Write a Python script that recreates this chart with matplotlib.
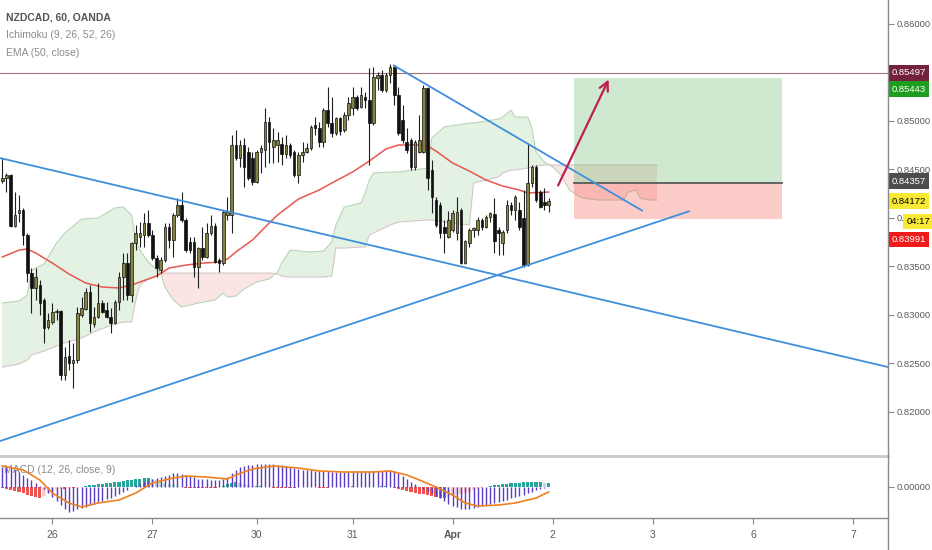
import numpy as np
import matplotlib
matplotlib.use("Agg")
import matplotlib.pyplot as plt
from matplotlib.transforms import blended_transform_factory
from matplotlib.patches import Rectangle
from matplotlib.lines import Line2D

plt.rcParams['font.family'] = ['Liberation Sans', 'DejaVu Sans']

# ---- hourly NZDCAD candles ----
opens = [0.84381, 0.84412, 0.84443, 0.83917, 0.84051, 0.84082, 0.83824, 0.83432, 0.83278, 0.83309,
         0.83154, 0.82875, 0.82927, 0.83030, 0.83040, 0.82381, 0.82576, 0.82504, 0.82535, 0.82999,
         0.83061, 0.83236, 0.82906, 0.82979, 0.83123, 0.83051, 0.82979, 0.82917, 0.83133, 0.83391,
         0.83535, 0.83206, 0.83742, 0.83804, 0.83824, 0.83948, 0.83824, 0.83587, 0.83463, 0.83566,
         0.83907, 0.83773, 0.84030, 0.84133, 0.83979, 0.83752, 0.83752, 0.83494, 0.83690, 0.83597,
         0.83845, 0.83917, 0.83566, 0.83535, 0.84030, 0.84030, 0.84752, 0.84618, 0.84752, 0.84680,
         0.84618, 0.84370, 0.84680, 0.84700, 0.84989, 0.84731, 0.84752, 0.84763, 0.84659, 0.84752,
         0.84680, 0.84443, 0.84649, 0.84680, 0.84721, 0.84958, 0.84927, 0.84783, 0.85113, 0.84979,
         0.84876, 0.85030, 0.84907, 0.85061, 0.85134, 0.85247, 0.85144, 0.85247, 0.85216, 0.84979,
         0.85443, 0.85474, 0.85319, 0.85474, 0.85556, 0.85268, 0.85010, 0.84783, 0.84804, 0.84525,
         0.84680, 0.84680, 0.85340, 0.84494, 0.84185, 0.84133, 0.83907, 0.83804, 0.83876, 0.83845,
         0.84082, 0.83535, 0.83742, 0.83876, 0.83876, 0.83979, 0.83907, 0.84009, 0.84040, 0.83876,
         0.83742, 0.83876, 0.84133, 0.84082, 0.84082, 0.84000, 0.83514, 0.84360, 0.84525, 0.84267,
         0.84164, 0.84133]
highs = [0.84618, 0.84463, 0.84453, 0.84267, 0.84237, 0.84103, 0.83845, 0.83484, 0.83484, 0.83360,
         0.83175, 0.83020, 0.83123, 0.83061, 0.83051, 0.82669, 0.82742, 0.82711, 0.83082, 0.83185,
         0.83278, 0.83309, 0.83082, 0.83329, 0.83154, 0.83133, 0.83072, 0.83154, 0.83443, 0.83639,
         0.83639, 0.83752, 0.83927, 0.83958, 0.84051, 0.84082, 0.83876, 0.83618, 0.83597, 0.83948,
         0.83948, 0.84051, 0.84206, 0.84267, 0.84000, 0.83804, 0.83804, 0.83700, 0.83907, 0.83948,
         0.84030, 0.83948, 0.83587, 0.84082, 0.84216, 0.84855, 0.84907, 0.84804, 0.84825, 0.84731,
         0.84680, 0.84700, 0.84752, 0.85134, 0.85040, 0.84927, 0.84886, 0.84835, 0.84855, 0.84773,
         0.84700, 0.84680, 0.84783, 0.84773, 0.84958, 0.85040, 0.84989, 0.85134, 0.85350, 0.85247,
         0.85040, 0.85040, 0.85092, 0.85247, 0.85350, 0.85268, 0.85350, 0.85299, 0.85546, 0.85556,
         0.85505, 0.85525, 0.85494, 0.85587, 0.85577, 0.85350, 0.85164, 0.84927, 0.84825, 0.84804,
         0.85061, 0.85371, 0.85350, 0.84597, 0.84216, 0.84164, 0.83979, 0.84072, 0.84082, 0.84216,
         0.84103, 0.83773, 0.83896, 0.83907, 0.84009, 0.84000, 0.84030, 0.84061, 0.84206, 0.83907,
         0.83876, 0.84185, 0.84164, 0.84237, 0.84164, 0.84288, 0.84773, 0.84546, 0.84546, 0.84288,
         0.84309, 0.84206]
lows = [0.84360, 0.84267, 0.83907, 0.83907, 0.83958, 0.83721, 0.83340, 0.83020, 0.83154, 0.82999,
        0.82711, 0.82855, 0.82906, 0.82948, 0.82329, 0.82329, 0.82432, 0.82247, 0.82504, 0.82979,
        0.83051, 0.82824, 0.82875, 0.82969, 0.83020, 0.82969, 0.82813, 0.82906, 0.83051, 0.83154,
        0.83154, 0.83133, 0.83669, 0.83700, 0.83700, 0.83804, 0.83566, 0.83391, 0.83432, 0.83545,
        0.83690, 0.83597, 0.84009, 0.83958, 0.83649, 0.83639, 0.83391, 0.83278, 0.83566, 0.83587,
        0.83824, 0.83535, 0.83443, 0.83514, 0.83979, 0.83845, 0.84597, 0.84525, 0.84319, 0.84391,
        0.84339, 0.84360, 0.84463, 0.84525, 0.84566, 0.84566, 0.84577, 0.84546, 0.84618, 0.84618,
        0.84422, 0.84360, 0.84577, 0.84669, 0.84700, 0.84855, 0.84731, 0.84731, 0.84938, 0.84835,
        0.84855, 0.84855, 0.84886, 0.85010, 0.85061, 0.85113, 0.85134, 0.85134, 0.84546, 0.84958,
        0.85319, 0.85299, 0.85299, 0.85391, 0.85164, 0.84855, 0.84773, 0.84669, 0.84494, 0.84494,
        0.84669, 0.84669, 0.84288, 0.84051, 0.83907, 0.83793, 0.83639, 0.83793, 0.83855, 0.83773,
        0.83525, 0.83525, 0.83700, 0.83804, 0.83824, 0.83876, 0.83896, 0.83958, 0.83639, 0.83618,
        0.83618, 0.83845, 0.84030, 0.83979, 0.83876, 0.83494, 0.83504, 0.84319, 0.84164, 0.84103,
        0.84082, 0.84061]
closes = [0.84412, 0.84443, 0.83917, 0.84030, 0.84082, 0.83824, 0.83432, 0.83278, 0.83391, 0.83123,
          0.82865, 0.82948, 0.83030, 0.83040, 0.82381, 0.82566, 0.82504, 0.82535, 0.83020, 0.83072,
          0.83236, 0.82917, 0.82979, 0.83123, 0.83030, 0.82979, 0.82917, 0.83133, 0.83391, 0.83535,
          0.83206, 0.83742, 0.83845, 0.83845, 0.83948, 0.83824, 0.83587, 0.83484, 0.83566, 0.83907,
          0.83773, 0.84030, 0.84133, 0.83979, 0.83669, 0.83669, 0.83494, 0.83690, 0.83597, 0.83845,
          0.83917, 0.83545, 0.83535, 0.84061, 0.84061, 0.84752, 0.84618, 0.84752, 0.84525, 0.84412,
          0.84370, 0.84680, 0.84721, 0.84989, 0.84783, 0.84804, 0.84804, 0.84659, 0.84752, 0.84649,
          0.84443, 0.84649, 0.84680, 0.84721, 0.84938, 0.84927, 0.84783, 0.85113, 0.84979, 0.84876,
          0.85030, 0.84896, 0.85061, 0.85185, 0.85247, 0.85134, 0.85268, 0.85216, 0.84979, 0.85453,
          0.85474, 0.85319, 0.85474, 0.85556, 0.85268, 0.84876, 0.84804, 0.84700, 0.84525, 0.84783,
          0.84804, 0.85340, 0.84412, 0.84216, 0.83927, 0.83845, 0.83845, 0.83979, 0.84051, 0.84061,
          0.83535, 0.83762, 0.83876, 0.83896, 0.83979, 0.83907, 0.84009, 0.84051, 0.83762, 0.83845,
          0.83855, 0.84133, 0.84082, 0.84216, 0.83907, 0.83514, 0.84360, 0.84525, 0.84185, 0.84113,
          0.84133, 0.84172]

# ---- EMA(50) read at sample bars ----
ema_bar = [0, 4, 6, 8, 12, 16, 20, 24, 28, 31, 33, 37, 40, 44, 48, 52, 54, 56, 60, 64, 66, 71, 76,
           79, 84, 88, 92, 95, 100, 102, 104, 108, 112, 116, 120, 124, 126, 131]
ema_val = [0.83597, 0.83669, 0.83680, 0.83639, 0.83535, 0.83422, 0.83329, 0.83288, 0.83278, 0.83309,
           0.83340, 0.83401, 0.83484, 0.83514, 0.83535, 0.83545, 0.83577, 0.83649, 0.83773, 0.83948,
           0.84030, 0.84195, 0.84288, 0.84360, 0.84474, 0.84587, 0.84711, 0.84752, 0.84752, 0.84742,
           0.84690, 0.84566, 0.84484, 0.84391, 0.84329, 0.84288, 0.84257, 0.84267]

# ---- Ichimoku cloud (leading spans, shifted 26 bars) ----
cloud_bar = [0, 4, 6, 7, 10, 13, 15, 19, 23, 27, 29, 31, 32, 33, 35, 38, 39, 41, 43, 47, 51, 53, 54,
             56, 58, 61, 64, 66, 67, 69, 74, 77, 79, 80, 82, 86, 87, 88, 89, 93, 95, 102, 103, 106,
             112, 113, 119, 120, 122, 123, 126, 127, 128, 130, 132, 134, 136, 139, 143, 149, 150,
             152, 153, 155, 157]
span_a = [0.83123, 0.83144, 0.83206, 0.83463, 0.83525, 0.83742, 0.83845, 0.83989, 0.84000, 0.84103,
          0.84113, 0.84030, 0.83773, 0.83669, 0.83545, 0.83432, 0.83288, 0.83154, 0.83082, 0.83123,
          0.83154, 0.83226, 0.83185, 0.83195, 0.83267, 0.83340, 0.83371, 0.83443, 0.83535, 0.83669,
          0.83649, 0.83659, 0.83752, 0.83927, 0.84113, 0.84154, 0.84257, 0.84391, 0.84463, 0.84474,
          0.84474, 0.84515, 0.84824, 0.84938, 0.84979, 0.84979, 0.85020, 0.85040, 0.85113, 0.85040,
          0.85040, 0.84927, 0.84680, 0.84577, 0.84525, 0.84443, 0.84288, 0.84206, 0.84185, 0.84185,
          0.84267, 0.84288, 0.84206, 0.84185, 0.84185]
span_b = [0.82463, 0.82494, 0.82535, 0.82587, 0.82628, 0.82680, 0.82711, 0.82762, 0.82845, 0.82906,
          0.82927, 0.82927, 0.83154, 0.83309, 0.83371, 0.83422, 0.83432, 0.83432, 0.83432, 0.83432,
          0.83432, 0.83432, 0.83432, 0.83432, 0.83432, 0.83432, 0.83432, 0.83422, 0.83401, 0.83391,
          0.83391, 0.83391, 0.83401, 0.83690, 0.83690, 0.83700, 0.83700, 0.83824, 0.83845, 0.83927,
          0.83958, 0.83979, 0.83979, 0.83958, 0.83927, 0.84360, 0.84422, 0.84463, 0.84494, 0.84494,
          0.84515, 0.84525, 0.84535, 0.84546, 0.84546, 0.84546, 0.84546, 0.84546, 0.84546, 0.84546,
          0.84546, 0.84546, 0.84546, 0.84546, 0.84546]

# ---- MACD (12, 26, close, 9), units of 1e-5 ----
macd = [40, 40, 38, 34, 30, 24, 18, 14, 8, 2, -4, -12, -20, -28, -36, -44, -50, -48, -44, -42,
        -40, -36, -34, -30, -28, -24, -22, -18, -14, -10, -6, 0, 4, 6, 10, 12, 16, 18, 20, 22,
        24, 28, 28, 26, 24, 22, 20, 16, 16, 16, 14, 14, 14, 16, 20, 28, 34, 40, 42, 44,
        44, 46, 46, 46, 46, 46, 44, 44, 42, 40, 38, 36, 34, 34, 34, 32, 32, 32, 32, 30,
        30, 30, 30, 30, 30, 30, 30, 30, 30, 32, 32, 32, 34, 34, 32, 28, 22, 16, 10, 6,
        0, -4, -8, -12, -18, -22, -28, -34, -38, -40, -44, -44, -44, -42, -40, -38, -36, -34, -32, -30,
        -28, -26, -22, -20, -18, -16, -12, -10, -6, -4, -2, 0]
signal_bar = [0, 5, 9, 12, 16, 19, 23, 28, 32, 36, 41, 44, 49, 54, 56, 60, 65, 71, 76, 82, 89, 93,
              97, 100, 104, 108, 111, 114, 119, 123, 128, 131]
signal = [42, 34, 14, -12, -32, -40, -32, -26, -12, 8, 18, 22, 20, 16, 24, 36, 42, 38, 32, 30, 30, 32,
          24, 14, 0, -16, -32, -38, -36, -32, -22, -10]
hist = [-2, -4, -6, -8, -10, -12, -16, -18, -20, -22, -18, -12, -8, -6, -4, -4, -2, -2, 0, 0,
        2, 4, 4, 6, 6, 8, 8, 10, 10, 12, 14, 14, 16, 16, 18, 18, 16, 14, 12, 8,
        6, 4, 2, 0, -2, -2, -2, -2, -2, -2, -2, -2, 0, 2, 6, 8, 10, 8, 6, 4,
        2, 2, 2, 0, 0, -2, -2, -2, -2, -2, -2, 0, 0, 0, 0, 0, -2, -2, -2, 0,
        0, 0, 0, 0, 2, 0, 0, 0, 0, 0, 0, 2, 2, 0, -2, -4, -6, -8, -10, -12,
        -14, -14, -16, -18, -20, -22, -22, -20, -18, -16, -14, -12, -10, -6, -4, -2, 0, 2, 4, 4,
        6, 6, 8, 8, 8, 10, 10, 10, 10, 10, 8, 8]

# ---- drawings ----
trend_x = [(-0.55, 212.4), (-0.55, 164.9), (93.7, 153.6)]
trend_y = [(0.84618, 0.82463), (0.81700, 0.84072), (0.85577, 0.84072)]
high_line = 0.85497
entry, target, stop = 0.84357, 0.85443, 0.83991
pos_bars = (137, 187)
arrow_from = (133, 0.84309)
arrow_to = (145.7, 0.85453)
last_price = 0.84172

day_pos = [12, 36, 61, 84, 108, 132, 156, 180, 204]
day_lbl = ['26', '27', '30', '31', 'Apr', '2', '3', '6', '7']
price_ticks = [0.820, 0.825, 0.830, 0.835, 0.840, 0.845, 0.850, 0.855, 0.860]
hidden_ticks = [0.855]   # fully covered by the price badges

W, H = 932, 550
fig = plt.figure(figsize=(W / 100, H / 100), dpi=100)
ax = fig.add_axes([0, 1 - 456 / H, 888 / W, 456 / H])
ax2 = fig.add_axes([0, 1 - 518 / H, 888 / W, 62 / H], sharex=ax)

GRAY = '#8a8a8a'
TXT = '#5a5a5a'
FS = 6.8

# cloud
cb = np.array(cloud_bar)
sa = np.array(span_a)
sb = np.array(span_b)
ax.fill_between(cb, sa, sb, where=sa >= sb, interpolate=True, color='#e3f2e3', lw=0, zorder=1)
ax.fill_between(cb, sa, sb, where=sa < sb, interpolate=True, color='#fbe4e4', lw=0, zorder=1)
ax.plot(cb, sa, color='#b9d6b9', lw=0.8, zorder=1.2)
ax.plot(cb, sb, color='#d6c6c6', lw=0.8, zorder=1.2)

# long position tool
ax.add_patch(Rectangle((pos_bars[0], entry), pos_bars[1] - pos_bars[0], target - entry,
                       fc='#4caf50', alpha=0.27, lw=0, zorder=2))
ax.add_patch(Rectangle((pos_bars[0], stop), pos_bars[1] - pos_bars[0], entry - stop,
                       fc='#f44336', alpha=0.27, lw=0, zorder=2))
ax.plot(pos_bars, [entry, entry], color='#5b5b5b', lw=1.3, zorder=2.5)

# high line
ax.axhline(high_line, color='#a7707d', lw=0.8, zorder=2)

# EMA
ax.plot(ema_bar, ema_val, color='#e8574f', lw=1.1, zorder=3)

# candles
o = np.array(opens)
h = np.array(highs)
l = np.array(lows)
c = np.array(closes)
idx = np.arange(len(c))
up = c >= o
ax.vlines(idx, l, h, color='#1e1e1e', lw=0.8, zorder=4)
body_lo = np.minimum(o, c)
body_h = np.maximum(np.abs(c - o), 0.00003)
ax.bar(idx, body_h, bottom=body_lo, width=0.62, color=np.where(up, '#85833f', '#111111'),
       edgecolor='#111111', linewidth=0.5, zorder=5)

# trend lines
for xs, ys in zip(trend_x, trend_y):
    ax.plot(xs, ys, color='#3f8fdc', lw=1.3, zorder=6, solid_capstyle='butt')

# arrow
ax.annotate('', xy=arrow_to, xytext=arrow_from,
            arrowprops=dict(arrowstyle='->', color='#c01e4e', lw=1.6, mutation_scale=16),
            zorder=7)

ax.set_xlim(-0.55, 212.4)
ax.set_ylim(0.81546, 0.86247)
ax.set_yticks(price_ticks)
ax.set_yticklabels(['' if t in hidden_ticks else '%.5f' % t for t in price_ticks])
ax.yaxis.tick_right()
ax.tick_params(axis='y', length=4, width=0.8, color=GRAY, labelsize=FS, labelcolor=TXT, pad=2)
ax.tick_params(axis='x', bottom=False, labelbottom=False)
for s in ax.spines.values():
    s.set_visible(False)

# price badges
tr = blended_transform_factory(ax.transAxes, ax.transData)


def badge(price, text, fc, tc, dx=2.5, dy=0):
    ax.annotate(text, xy=(1, price), xycoords=tr, xytext=(dx, dy), textcoords='offset points',
                ha='left', va='center', fontsize=FS, color=tc, annotation_clip=False, zorder=20,
                bbox=dict(boxstyle='square,pad=0.35', fc=fc, ec='none'))


badge(high_line, '%.5f' % high_line, '#74203f', 'white')
badge(target, '%.5f' % target, '#1e9e1e', 'white', dy=-8)
badge(entry, '%.5f' % entry, '#4d4d4d', 'white', dy=1.5)
badge(last_price, '%.5f' % last_price, '#f8e934', 'black')
badge(last_price, '04:17', '#f8e934', 'black', dx=13.5, dy=-14.5)
badge(stop, '%.5f' % stop, '#ef1a1a', 'white', dy=-15)

# MACD panel
mv = np.array(macd) * 1e-5
hv = np.array(hist) * 1e-5
sv = np.array(signal) * 1e-5
dh = np.diff(np.concatenate([[hv[0]], hv]))
hcol = np.where(hv >= 0, np.where(dh >= 0, '#26a69a', '#b2dfdb'),
                np.where(dh <= 0, '#ef5350', '#ffcdd2'))
ax2.bar(idx, hv, width=0.75, color=hcol, lw=0, zorder=2)
ax2.vlines(idx, 0, mv, color='#5a3cc0', lw=1.0, zorder=3)
ax2.plot(signal_bar, sv, color='#f0801e', lw=1.2, zorder=4)
ax2.text(0.005, 0.77, 'MACD (12, 26, close, 9)', transform=ax2.transAxes, fontsize=7.5,
         color='#8a8a8a', va='center', zorder=1)
ax2.set_ylim(-0.00062, 0.00062)
ax2.set_yticks([0])
ax2.yaxis.set_major_formatter(plt.FormatStrFormatter('%.5f'))
ax2.yaxis.tick_right()
ax2.tick_params(axis='y', length=4, width=0.8, color=GRAY, labelsize=FS, labelcolor=TXT, pad=2)
ax2.set_xticks(day_pos)
ax2.set_xticklabels(day_lbl)
ax2.tick_params(axis='x', length=4, width=0.8, color=GRAY, labelsize=7.5, labelcolor=TXT, pad=5)
for t in ax2.get_xticklabels():
    if t.get_text() == 'Apr':
        t.set_fontweight('bold')
for k in ('left', 'right'):
    ax2.spines[k].set_visible(False)
ax2.spines['top'].set_color('#c8c8c8')
ax2.spines['top'].set_linewidth(2)
ax2.spines['bottom'].set_color(GRAY)
ax2.spines['bottom'].set_linewidth(1)

# right axis line
fig.add_artist(Line2D([888 / W, 888 / W], [0, 1], transform=fig.transFigure, color=GRAY, lw=1))

# header
fig.text(6 / W, 1 - 17 / H, 'NZDCAD, 60, OANDA', fontsize=7.5, fontweight='bold', color='#555555',
         va='center')
fig.text(6 / W, 1 - 35 / H, 'Ichimoku (9, 26, 52, 26)', fontsize=7.5, color='#8c8c8c', va='center')
fig.text(6 / W, 1 - 53 / H, 'EMA (50, close)', fontsize=7.5, color='#8c8c8c', va='center')

fig.savefig('out.png', dpi=100, facecolor='white')
